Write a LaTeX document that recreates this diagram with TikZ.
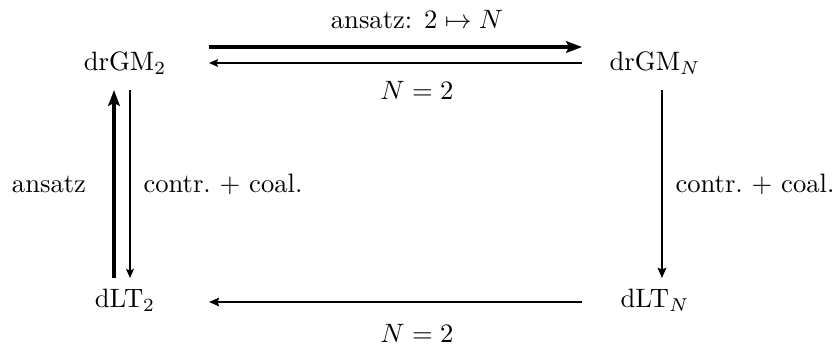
\documentclass[tikz,border=0pt]{standalone}
\usetikzlibrary{arrows.meta,calc}
\begin{document}
\begin{tikzpicture}[x=0.376pt,y=-0.376pt,
  obj/.style={inner sep=0pt},
  lbl/.style={inner sep=0pt},
  thk/.style={line width=1.4pt,-{Stealth[length=6pt,width=4.4pt,inset=1.2pt]}},
  thn/.style={line width=0.65pt,-{Stealth[length=3.4pt,width=2.9pt,inset=0.6pt]}},
  med/.style={line width=0.95pt,-{Stealth[length=3.8pt,width=3.2pt,inset=0.6pt]}}]
\useasboundingbox (0,0) rectangle (840,347);
\node[obj] (A) at (125,63) {drGM$_2$};
\node[obj] (B) at (655,63) {drGM$_N$};
\node[obj] (C) at (125,300) {dLT$_2$};
\node[obj] (D) at (655,300) {dLT$_N$};
% top
\draw[thk] ($(A)+(84,-16)$) -- ($(B)+(-73,-16)$);
\draw[thn] ($(B)+(-73,0)$) -- ($(A)+(84,0)$);
\node[lbl] (t1) at (417,20) {ansatz: $2\mapsto N$};
\node[lbl] (t2) at (417,90) {$N=2$};
% left
\draw[thk] ($(C)+(-11,-22)$) -- ($(A)+(-11,27)$);
\draw[thn] ($(A)+(5,27)$) -- ($(C)+(5,-22)$);
\node[lbl] (l1) at (49,184) {ansatz};
\node[lbl,anchor=west] (l2) at (143,184) {contr.\ $+$ coal.};
% right
\draw[med] ($(B)+(7,27)$) -- ($(D)+(7,-22)$);
\node[lbl,anchor=west] (r1) at (675,184) {contr.\ $+$ coal.};
% bottom
\draw[med] ($(D)+(-73,2)$) -- ($(C)+(84,2)$);
\node[lbl] (b1) at (417,333) {$N=2$};
\end{tikzpicture}
\end{document}
